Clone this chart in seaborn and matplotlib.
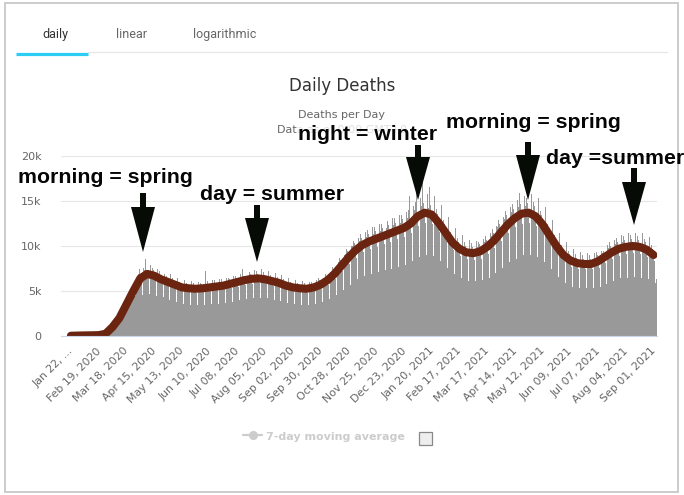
import numpy as np
import pandas as pd
import matplotlib
matplotlib.use("Agg")
import matplotlib.pyplot as plt
from matplotlib.patches import Polygon, Rectangle
from matplotlib.lines import Line2D
import seaborn as sns

# ---------------- data (deaths, thousands) ----------------
daily_deaths_k = [
    0.02, 0.03, 0.03, 0.04, 0.03, 0.02, 0.04,
    0.04, 0.05, 0.06, 0.05, 0.06, 0.04, 0.05,
    0.06, 0.07, 0.09, 0.07, 0.08, 0.05, 0.07,
    0.10, 0.12, 0.05, 0.14, 0.03, 0.05, 0.10,
    0.07, 0.10, 0.08, 0.12, 0.10, 0.08, 0.11,
    0.15, 0.20, 0.25, 0.30, 0.30, 0.25, 0.35,
    0.6, 0.7, 0.85, 1.0, 1.1, 1.15, 1.4,
    1.6, 1.7, 1.9, 2.1, 2.3, 2.0, 2.4,
    2.8, 3.1, 3.4, 3.7, 3.9, 3.5, 4.1,
    4.6, 4.7, 5.0, 5.2, 5.6, 4.5, 5.9,
    6.3, 6.9, 7.4, 6.5, 6.0, 4.6, 7.6,
    7.3, 8.6, 7.2, 7.0, 6.4, 4.7, 7.9,
    7.0, 7.6, 7.3, 6.9, 6.2, 4.5, 7.5,
    6.6, 7.2, 6.8, 6.5, 5.8, 4.3, 6.9,
    6.3, 6.7, 6.5, 6.1, 5.5, 4.0, 6.9,
    6.0, 6.4, 6.2, 5.8, 5.2, 3.8, 6.5,
    5.7, 6.0, 5.8, 5.5, 5.0, 3.6, 6.2,
    5.6, 5.9, 5.7, 5.4, 4.9, 3.5, 6.1,
    5.5, 5.9, 5.7, 5.4, 4.8, 3.5, 6.0,
    5.6, 5.9, 5.8, 5.4, 4.9, 3.5, 7.2,
    5.7, 6.1, 5.8, 5.5, 5.0, 3.6, 6.2,
    5.8, 6.2, 5.9, 5.6, 5.1, 3.6, 6.3,
    5.9, 6.3, 6.0, 5.7, 5.2, 3.7, 6.4,
    6.1, 6.5, 6.3, 5.9, 5.3, 3.8, 6.7,
    6.3, 6.7, 6.5, 6.1, 5.5, 4.0, 6.9,
    6.5, 7.5, 6.7, 6.3, 5.7, 4.1, 6.6,
    6.7, 7.1, 6.9, 6.5, 5.8, 4.2, 7.3,
    6.7, 7.2, 6.9, 6.5, 5.9, 4.2, 7.4,
    6.6, 7.1, 6.8, 6.4, 5.8, 4.2, 7.2,
    6.4, 6.8, 6.6, 6.2, 5.6, 4.0, 7.0,
    6.2, 6.6, 6.4, 6.0, 5.4, 3.9, 6.8,
    5.9, 6.3, 6.0, 5.7, 5.2, 3.7, 6.4,
    5.7, 6.0, 5.8, 5.5, 5.0, 3.6, 6.2,
    5.6, 5.9, 5.7, 5.4, 4.9, 3.5, 6.1,
    5.5, 5.9, 5.7, 5.4, 4.8, 3.5, 6.0,
    5.7, 6.0, 5.8, 5.5, 5.0, 3.6, 6.2,
    6.0, 6.4, 6.2, 5.8, 5.2, 3.8, 6.5,
    6.5, 6.9, 6.7, 6.3, 5.7, 4.1, 7.1,
    7.2, 7.7, 7.5, 7.0, 6.3, 4.6, 7.9,
    8.2, 8.7, 8.4, 8.0, 7.2, 5.1, 9.0,
    9.1, 9.7, 9.4, 8.9, 8.0, 5.7, 10.0,
    10.0, 10.6, 10.3, 9.7, 8.7, 6.3, 10.9,
    10.6, 11.3, 10.9, 10.3, 9.3, 6.7, 11.6,
    11.0, 11.8, 11.3, 10.7, 9.7, 6.9, 12.1,
    11.3, 12.1, 11.7, 11.0, 9.9, 7.1, 12.4,
    11.7, 12.4, 12.0, 11.3, 10.2, 7.3, 12.8,
    12.0, 12.8, 12.3, 11.6, 10.5, 7.5, 13.1,
    12.3, 13.1, 12.6, 11.9, 10.8, 7.7, 13.5,
    12.6, 13.4, 13.0, 12.2, 11.0, 7.9, 13.8,
    13.1, 14.0, 15.5, 12.8, 11.5, 8.3, 14.4,
    14.0, 14.9, 16.8, 13.6, 12.2, 8.8, 15.3,
    14.4, 17.2, 14.8, 14.0, 12.6, 9.0, 15.8,
    14.2, 16.5, 14.6, 13.8, 12.4, 8.9, 15.5,
    13.2, 14.1, 13.6, 12.9, 11.6, 8.3, 14.5,
    12.1, 12.9, 12.4, 11.7, 10.6, 7.6, 13.2,
    10.9, 11.6, 11.2, 10.6, 9.6, 6.9, 12.0,
    10.2, 10.9, 10.5, 9.9, 8.9, 6.4, 11.2,
    9.8, 10.4, 10.0, 9.5, 8.6, 6.1, 10.7,
    9.7, 10.3, 9.9, 9.4, 8.5, 6.1, 10.6,
    9.9, 10.5, 10.2, 9.6, 8.6, 6.2, 10.8,
    10.4, 11.1, 10.7, 10.1, 9.1, 6.5, 11.4,
    11.1, 11.9, 11.4, 10.8, 9.8, 7.0, 12.2,
    12.1, 12.9, 12.4, 11.7, 10.6, 7.6, 13.2,
    13.0, 13.9, 13.4, 12.6, 11.4, 8.2, 14.3,
    13.8, 14.7, 14.1, 13.4, 12.1, 8.6, 15.1,
    14.3, 15.9, 14.7, 13.9, 12.5, 9.0, 15.6,
    14.4, 15.3, 14.8, 14.0, 12.6, 9.0, 15.8,
    14.0, 14.9, 14.4, 13.6, 12.2, 8.8, 15.3,
    13.0, 13.9, 13.4, 12.6, 11.4, 8.2, 14.3,
    11.8, 12.5, 12.1, 11.4, 10.3, 7.4, 12.9,
    10.5, 11.2, 10.8, 10.2, 9.2, 6.6, 11.5,
    9.5, 10.1, 9.7, 9.2, 8.3, 5.9, 10.4,
    8.8, 9.4, 9.1, 8.6, 7.7, 5.5, 9.7,
    8.5, 9.1, 8.7, 8.3, 7.5, 5.3, 9.3,
    8.4, 9.0, 8.6, 8.2, 7.4, 5.3, 9.2,
    8.4, 9.0, 8.6, 8.2, 7.4, 5.3, 9.2,
    8.7, 9.3, 9.0, 8.5, 7.6, 5.5, 9.5,
    9.2, 9.9, 9.5, 9.0, 8.1, 5.8, 10.1,
    9.8, 10.4, 10.0, 9.5, 8.6, 6.1, 10.7,
    10.2, 10.9, 10.5, 9.9, 8.9, 6.4, 11.2,
    10.4, 11.1, 10.7, 10.1, 9.1, 6.5, 11.4,
    10.5, 11.2, 10.8, 10.2, 9.2, 6.6, 11.5,
    10.4, 11.1, 10.7, 10.1, 9.1, 6.5, 11.4,
    10.1, 10.8, 10.4, 9.8, 8.8, 6.3, 11.0,
    9.5, 10.1, 9.7, 9.2, 8.3, 5.9, 6.3,
]

# 7-day moving average, read weekly (thousands), centred on each week
avg_weekly_k = [
    0.03, 0.05, 0.07, 0.08, 0.10, 0.25, 1.0, 2.0, 3.5, 5.0,
    6.4, 6.9, 6.7, 6.3, 6.0, 5.7, 5.4, 5.3, 5.25, 5.3,
    5.4, 5.5, 5.6, 5.8, 6.0, 6.2, 6.35, 6.4, 6.3, 6.1,
    5.9, 5.6, 5.4, 5.3, 5.25, 5.4, 5.7, 6.2, 6.9, 7.8,
    8.7, 9.5, 10.1, 10.5, 10.8, 11.1, 11.4, 11.7, 12.0, 12.5,
    13.3, 13.7, 13.5, 12.6, 11.5, 10.4, 9.7, 9.3, 9.2, 9.4,
    9.9, 10.6, 11.5, 12.4, 13.1, 13.6, 13.7, 13.3, 12.4, 11.2,
    10.0, 9.0, 8.4, 8.1, 8.0, 8.0, 8.3, 8.8, 9.3, 9.7,
    9.9, 10.0, 9.9, 9.6, 9.0,
]

tick_labels = [
    "Jan 22, ...", "Feb 19, 2020", "Mar 18, 2020", "Apr 15, 2020", "May 13, 2020",
    "Jun 10, 2020", "Jul 08, 2020", "Aug 05, 2020", "Sep 02, 2020", "Sep 30, 2020",
    "Oct 28, 2020", "Nov 25, 2020", "Dec 23, 2020", "Jan 20, 2021", "Feb 17, 2021",
    "Mar 17, 2021", "Apr 14, 2021", "May 12, 2021", "Jun 09, 2021", "Jul 07, 2021",
    "Aug 04, 2021", "Sep 01, 2021",
]
y_ticks = [0, 5000, 10000, 15000, 20000]
y_tick_labels = ["0", "5k", "10k", "15k", "20k"]

notes = ["morning = spring", "day = summer", "night = winter",
         "morning = spring", "day =summer"]

# ---------------- frames ----------------
n_days = len(daily_deaths_k)
daily = pd.DataFrame({"day": np.arange(n_days),
                      "deaths": np.array(daily_deaths_k) * 1000})
avg = pd.DataFrame({"day": np.arange(len(avg_weekly_k)) * 7 + 3,
                    "deaths": np.array(avg_weekly_k) * 1000})

sns.set_style("white")
plt.rcParams["font.family"] = ["DejaVu Sans"]

W, H = 684, 495
fig = plt.figure(figsize=(W / 100, H / 100), dpi=100)
fx = lambda x: x / W
fy = lambda y: 1 - y / H

ax = fig.add_axes([fx(61), fy(336), (657 - 61) / W, (336 - 156) / H])
sns.barplot(data=daily, x="day", y="deaths", color="#999999", saturation=1,
            width=1.0, linewidth=0, ax=ax, native_scale=True, errorbar=None)
sns.lineplot(data=avg, x="day", y="deaths", color="#6a2410", linewidth=5.8,
             ax=ax, estimator=None, solid_capstyle="round", solid_joinstyle="round")

ax.set_xlim(-7, 594.5)
ax.set_ylim(0, 20000)
ax.set_yticks(y_ticks)
ax.set_yticklabels(y_tick_labels)
ax.set_xticks(np.arange(len(tick_labels)) * 28)
ax.set_xticklabels(tick_labels, rotation=45, ha="right", va="top",
                   rotation_mode="anchor")
ax.tick_params(axis="x", length=0, pad=7, labelsize=7.8, labelcolor="#666666")
ax.tick_params(axis="y", length=0, pad=14, labelsize=8, labelcolor="#666666")
for lbl in ax.get_yticklabels():
    lbl.set_horizontalalignment("right")
ax.set_xlabel("")
ax.set_ylabel("")
ax.grid(axis="y", color="#e6e6e6", linewidth=0.8)
ax.grid(axis="x", visible=False)
ax.set_axisbelow(True)
for s in ["top", "right", "left"]:
    ax.spines[s].set_visible(False)
ax.spines["bottom"].set_color("#ccd6eb")
ax.spines["bottom"].set_linewidth(0.8)
ax.patch.set_alpha(0)

# ---------------- page chrome ----------------
fig.patches.append(Rectangle((fx(5), fy(492)), (678 - 5) / W, (492 - 3) / H,
                             transform=fig.transFigure, fill=False,
                             edgecolor="#cccccc", linewidth=1.4))
fig.lines.append(Line2D([fx(88), fx(667)], [fy(52), fy(52)], transform=fig.transFigure,
                        color="#e6e6e6", linewidth=0.9))
fig.lines.append(Line2D([fx(16), fx(88)], [fy(53.5), fy(53.5)], transform=fig.transFigure,
                        color="#2bcdf5", linewidth=2.3, solid_capstyle="butt"))
fig.text(fx(42), fy(38), "daily", fontsize=9, color="#333333", family="Roboto")
fig.text(fx(116), fy(38), "linear", fontsize=9, color="#666666", family="Roboto")
fig.text(fx(193), fy(38), "logarithmic", fontsize=9, color="#666666", family="Roboto")

fig.text(fx(342), fy(86), "Daily Deaths", fontsize=12, color="#333333",
         ha="center", va="center")
fig.text(fx(342), fy(115), "Deaths per Day", fontsize=8, color="#666666",
         ha="center", va="center")
fig.text(fx(342), fy(130), "Data as of 0:00 GMT+0", fontsize=8, color="#666666",
         ha="center", va="center")

# legend
fig.lines.append(Line2D([fx(243), fx(262)], [fy(435), fy(435)], transform=fig.transFigure,
                        color="#cccccc", linewidth=1.6))
fig.lines.append(Line2D([fx(252.5)], [fy(435)], transform=fig.transFigure,
                        color="#cccccc", marker="o", markersize=5.5, linestyle="none"))
fig.text(fx(266), fy(440), "7-day moving average", fontsize=8, fontweight="bold",
         color="#cccccc")
fig.patches.append(Rectangle((fx(419), fy(445)), 13 / W, 13 / H, transform=fig.transFigure,
                             facecolor="#eeeeee", edgecolor="#888888", linewidth=0.9))

# ---------------- annotations ----------------
note_pos = [(18, 183), (200, 200), (298, 140), (446, 128), (546, 164)]
arrow_pos = [(143, 193, 207, 252), (257, 205, 218, 262), (418, 145, 157, 200),
             (528, 142, 155, 200), (634, 168, 182, 225)]
for text, (x, y) in zip(notes, note_pos):
    t = fig.text(fx(x), fy(y), text, fontsize=15.3, fontweight="bold",
                 family="Liberation Sans", color="#050505", va="baseline", ha="left")
    if text == "night = winter":
        t.set_bbox(dict(facecolor="white", alpha=0.8, edgecolor="none", pad=0.5))
for x, top, hs, tip in arrow_pos:
    pts = [(x - 3, top), (x + 3, top), (x + 3, hs), (x + 12, hs), (x, tip),
           (x - 12, hs), (x - 3, hs)]
    fig.patches.append(Polygon([(fx(a), fy(b)) for a, b in pts], closed=True,
                               transform=fig.transFigure, facecolor="#060b06",
                               edgecolor="none"))

fig.savefig("out.png", dpi=100)
